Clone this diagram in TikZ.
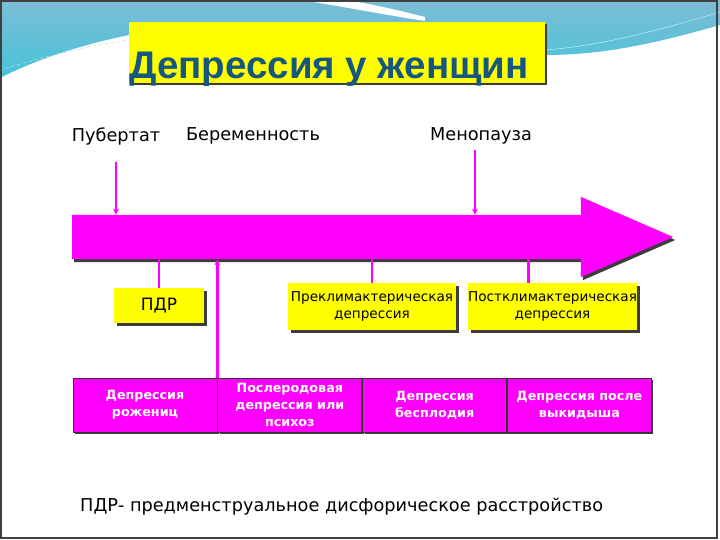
\documentclass[tikz,border=0pt]{standalone}
\usepackage{fontspec}
\setmainfont{DejaVu Sans}
\newfontfamily\headfont{Liberation Sans}
\usetikzlibrary{shapes.arrows,shadows,arrows.meta,positioning}
\definecolor{timeline}{HTML}{FF00FF}
\definecolor{notebg}{HTML}{FFFF00}
\definecolor{headblue}{HTML}{15577F}
\definecolor{skytop}{HTML}{7DBCD6}
\definecolor{skylow}{HTML}{46C4D9}
\definecolor{shade}{HTML}{3C3C3C}

\tikzset{
  notebox/.style={fill=notebg, inner sep=0pt, align=center,
    font=\fontsize{13.6}{17}\selectfont,
    drop shadow={shadow xshift=2.5pt, shadow yshift=-2.5pt, fill=shade, opacity=1}},
  cellbox/.style={fill=timeline, draw=black!80, line width=0.8pt,
    minimum width=144pt, minimum height=54pt, inner sep=0pt, align=center,
    text=white, font=\bfseries\fontsize{12.7}{17}\selectfont,
    drop shadow={shadow xshift=2pt, shadow yshift=-2pt, fill=shade, opacity=1}},
  tick/.style={draw=timeline, line width=2.5pt},
  tickarrow/.style={tick, -{Stealth[length=6pt,width=6pt]}},
  era/.style={font=\fontsize{17.7}{20}\selectfont, inner sep=1pt},
}

\begin{document}
\begin{tikzpicture}[x=1pt,y=-1pt]
\useasboundingbox (0,0) rectangle (720,540);
% slide background
\fill[white] (0,0) rectangle (720,540);
\shade[top color=skytop, bottom color=skylow] (0,0) -- (720,0) -- (720,25)
  .. controls (650,45) and (600,55) .. (545,55) -- (129,55) -- (129,35)
  .. controls (80,45) and (35,60) .. (0,78) -- cycle;
\fill[white] (300,0) .. controls (340,6) and (380,14) .. (425,21) -- (425,17)
  .. controls (390,8) and (360,2) .. (345,0) -- cycle;
\draw[white!60!skylow, dashed, line width=0.6pt] (0,70) .. controls (40,58) and (90,45) .. (129,40);
\draw[white!60!skylow, line width=0.6pt] (545,50) .. controls (600,46) and (660,30) .. (720,12);
\draw[black!75, line width=1.5pt] (1,1) rectangle (717,538);

% title
\node[fill=notebg, minimum width=416pt, minimum height=61pt, anchor=north west,
  drop shadow={shadow xshift=2pt, shadow yshift=-2pt, fill=shade, opacity=1}] (headbox) at (129,22) {};
\node[anchor=base west, inner sep=0pt, text=headblue,
  font=\headfont\bfseries\fontsize{38.5}{40}\selectfont] (head) at ([yshift=5pt]headbox.south west) {Депрессия у женщин};

% periods
\node[era] (pub) at (116,136) {Пубертат};
\node[era] (preg) at (253,136) {Беременность};
\node[era] (meno) at (481,136) {Менопауза};

% time axis
\node[single arrow, fill=timeline, minimum width=80pt, minimum height=601pt,
  single arrow head extend=18pt, single arrow tip angle=47, inner xsep=0pt, inner ysep=22pt,
  anchor=tail, drop shadow={shadow xshift=2pt, shadow yshift=-3pt, fill=shade, opacity=1}] (time) at (72,237) {};

% disorders
\node[notebox, minimum width=90pt, minimum height=35pt, font=\fontsize{17}{20}\selectfont] (pdr) at (159,305.5) {ПДР};
\node[notebox, minimum width=168pt, minimum height=47pt] (pre) at (372,306.5) {Преклимактерическая\\депрессия};
\node[notebox, minimum width=169pt, minimum height=47pt] (post) at (552.5,306.5) {Постклимактерическая\\депрессия};

\node[cellbox] (birth) at (145,405) {Депрессия\\рожениц};
\node[cellbox, right=0pt of birth] (puerp) {Послеродовая\\депрессия или\\психоз};
\node[cellbox, right=0pt of puerp] (infert) {Депрессия\\бесплодия};
\node[cellbox, right=0pt of infert] (miscar) {Депрессия после\\выкидыша};

% links
\coordinate (pubfoot) at (116,162);
\coordinate (menofoot) at (475,150);
\draw[tickarrow] (pubfoot) -- (pubfoot |- time.north);
\draw[tickarrow] (menofoot) -- (menofoot |- time.north);
\draw[tickarrow] (puerp.north west) -- (puerp.north west |- time.south);
\draw[tick] (pdr.north) -- (pdr.north |- time.south);
\draw[tick] (pre.north) -- (pre.north |- time.south);
\draw[tick] ([xshift=-24pt]post.north) -- ([xshift=-24pt]post.north |- time.south);

\node[era, anchor=west] (legend) at (79,507) {ПДР- предменструальное дисфорическое расстройство};
\end{tikzpicture}
\end{document}
